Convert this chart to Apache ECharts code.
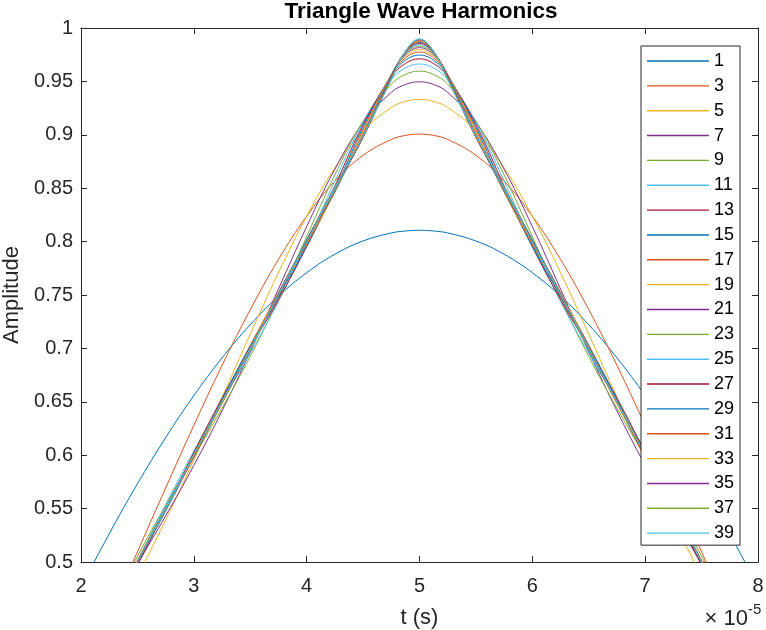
<!DOCTYPE html>
<html>
<head>
<meta charset="utf-8">
<script src="https://cdn.jsdelivr.net/npm/echarts@6/dist/echarts.min.js"></script>
<style>
html,body{margin:0;padding:0;background:#fff;}
#chart{width:766px;height:630px;}
</style>
</head>
<body>
<div id="chart"></div>
<script>
// time in units of 1e-5 s
var tValues = [2,2.25,2.5,2.75,3,3.25,3.5,3.75,4,4.25,4.5,4.75,4.875,5,5.125,5.25,5.5,5.75,6,6.25,6.5,6.75,7,7.25,7.5,7.75,8];
var harmonics = ['1','3','5','7','9','11','13','15','17','19','21','23','25','27','29','31','33','35','37','39'];
var h1  = [0.4764,0.5264,0.5732,0.6164,0.6558,0.6911,0.7222,0.7489,0.7709,0.7882,0.8006,0.8081,0.8099,0.8106,0.8099,0.8081,0.8006,0.7882,0.7709,0.7489,0.7222,0.6911,0.6558,0.6164,0.5732,0.5264,0.4764];
var h3  = [0.3908,0.4496,0.5095,0.5693,0.6279,0.6841,0.7363,0.7833,0.8238,0.8567,0.8808,0.8956,0.8994,0.9006,0.8994,0.8956,0.8808,0.8567,0.8238,0.7833,0.7363,0.6841,0.6279,0.5693,0.5095,0.4496,0.3908];
var h5  = [0.3908,0.4372,0.4866,0.5394,0.5955,0.6541,0.7134,0.7709,0.8238,0.8691,0.9038,0.9256,0.9312,0.9331,0.9312,0.9256,0.9038,0.8691,0.8238,0.7709,0.7134,0.6541,0.5955,0.5394,0.4866,0.4372,0.3908];
var h7  = [0.4065,0.4533,0.4982,0.5432,0.5904,0.6415,0.6970,0.7556,0.8141,0.8678,0.9113,0.9397,0.9471,0.9496,0.9471,0.9397,0.9113,0.8678,0.8141,0.7556,0.6970,0.6415,0.5904,0.5432,0.4982,0.4533,0.4065];
var h9  = [0.4006,0.4541,0.5053,0.5532,0.5985,0.6439,0.6925,0.7464,0.8046,0.8625,0.9128,0.9473,0.9565,0.9596,0.9565,0.9473,0.9128,0.8625,0.8046,0.7464,0.6925,0.6439,0.5985,0.5532,0.5053,0.4541,0.4006];
var h11 = [0.3967,0.4474,0.5006,0.5537,0.6039,0.6504,0.6955,0.7438,0.7982,0.8568,0.9118,0.9517,0.9626,0.9663,0.9626,0.9517,0.9118,0.8568,0.7982,0.7438,0.6955,0.6504,0.6039,0.5537,0.5006,0.4474,0.3967];
var h13 = [0.4013,0.4485,0.4972,0.5491,0.6024,0.6535,0.7003,0.7457,0.7954,0.8520,0.9096,0.9542,0.9668,0.9711,0.9668,0.9542,0.9096,0.8520,0.7954,0.7457,0.7003,0.6535,0.6024,0.5491,0.4972,0.4485,0.4013];
var h15 = [0.4013,0.4519,0.4997,0.5477,0.5988,0.6521,0.7028,0.7490,0.7954,0.8487,0.9071,0.9556,0.9698,0.9747,0.9698,0.9556,0.9071,0.8487,0.7954,0.7490,0.7028,0.6521,0.5988,0.5477,0.4997,0.4519,0.4013];
var h17 = [0.3986,0.4504,0.5017,0.5501,0.5980,0.6493,0.7024,0.7516,0.7971,0.8469,0.9046,0.9562,0.9720,0.9775,0.9720,0.9562,0.9046,0.8469,0.7971,0.7516,0.7024,0.6493,0.5980,0.5501,0.5017,0.4504,0.3986];
var h19 = [0.3999,0.4487,0.5001,0.5515,0.5998,0.6481,0.7004,0.7524,0.7992,0.8464,0.9024,0.9564,0.9736,0.9798,0.9736,0.9564,0.9024,0.8464,0.7992,0.7524,0.7004,0.6481,0.5998,0.5515,0.5001,0.4487,0.3999];
var h21 = [0.4010,0.4501,0.4988,0.5503,0.6013,0.6491,0.6988,0.7517,0.8009,0.8468,0.9005,0.9562,0.9749,0.9816,0.9749,0.9562,0.9005,0.8468,0.8009,0.7517,0.6988,0.6491,0.6013,0.5503,0.4988,0.4501,0.4010];
var h23 = [0.3995,0.4509,0.4999,0.5490,0.6008,0.6506,0.6985,0.7503,0.8018,0.8478,0.8992,0.9559,0.9758,0.9831,0.9758,0.9559,0.8992,0.8478,0.8018,0.7503,0.6985,0.6506,0.6008,0.5490,0.4999,0.4509,0.3995];
var h25 = [0.3995,0.4497,0.5008,0.5495,0.5995,0.6511,0.6994,0.7491,0.8018,0.8490,0.8983,0.9554,0.9765,0.9844,0.9765,0.9554,0.8983,0.8490,0.8018,0.7491,0.6994,0.6511,0.5995,0.5495,0.5008,0.4497,0.3995];
var h27 = [0.4006,0.4494,0.5001,0.5506,0.5992,0.6504,0.7005,0.7487,0.8012,0.8501,0.8977,0.9548,0.9771,0.9855,0.9771,0.9548,0.8977,0.8501,0.8012,0.7487,0.7005,0.6504,0.5992,0.5506,0.5001,0.4494,0.4006];
var h29 = [0.4000,0.4504,0.4994,0.5505,0.5999,0.6495,0.7010,0.7491,0.8003,0.8509,0.8976,0.9542,0.9775,0.9865,0.9775,0.9542,0.8976,0.8509,0.8003,0.7491,0.7010,0.6495,0.5999,0.5505,0.4994,0.4504,0.4000];
var h31 = [0.3995,0.4503,0.5000,0.5497,0.6006,0.6493,0.7006,0.7499,0.7995,0.8514,0.8977,0.9535,0.9778,0.9873,0.9778,0.9535,0.8977,0.8514,0.7995,0.7499,0.7006,0.6493,0.6006,0.5497,0.5000,0.4503,0.3995];
var h33 = [0.4002,0.4496,0.5005,0.5495,0.6004,0.6498,0.6999,0.7505,0.7990,0.8514,0.8981,0.9529,0.9780,0.9881,0.9780,0.9529,0.8981,0.8514,0.7990,0.7505,0.6999,0.6498,0.6004,0.5495,0.5005,0.4496,0.4002];
var h35 = [0.4002,0.4499,0.5000,0.5501,0.5997,0.6504,0.6994,0.7508,0.7990,0.8512,0.8985,0.9523,0.9781,0.9887,0.9781,0.9523,0.8985,0.8512,0.7990,0.7508,0.6994,0.6504,0.5997,0.5501,0.5000,0.4499,0.4002];
var h37 = [0.3997,0.4504,0.4996,0.5504,0.5995,0.6505,0.6995,0.7506,0.7994,0.8507,0.8991,0.9517,0.9782,0.9893,0.9782,0.9517,0.8991,0.8507,0.7994,0.7506,0.6995,0.6505,0.5995,0.5504,0.4996,0.4504,0.3997];
var h39 = [0.4000,0.4500,0.5000,0.5500,0.6000,0.6500,0.7000,0.7501,0.7999,0.8502,0.8996,0.9512,0.9782,0.9899,0.9782,0.9512,0.8996,0.8502,0.7999,0.7501,0.7000,0.6500,0.6000,0.5500,0.5000,0.4500,0.4000];
var xTicks = [2,3,4,5,6,7,8];
var yTickLabels = ['0.5','0.55','0.6','0.65','0.7','0.75','0.8','0.85','0.9','0.95','1'];

var seriesValues = [h1,h3,h5,h7,h9,h11,h13,h15,h17,h19,h21,h23,h25,h27,h29,h31,h33,h35,h37,h39];
var palette = ['#0072BD','#D95319','#EDB120','#7E2F8E','#77AC30','#4DBEEE','#A2142F'];
var FONT = "'Liberation Sans', Arial, Helvetica, sans-serif";
var AX = '#262626';

var series = seriesValues.map(function (vals, i) {
  return {
    name: harmonics[i],
    type: 'line',
    xAxisIndex: 0,
    yAxisIndex: 0,
    data: vals.map(function (v, j) { return [tValues[j], v]; }),
    smooth: 0.4,
    symbol: 'none',
    clip: true,
    silent: true,
    animation: false,
    lineStyle: { width: 1, color: palette[i % palette.length] },
    itemStyle: { color: palette[i % palette.length] }
  };
});

function xAx(pos, showLabel) {
  return {
    type: 'value', position: pos, min: xTicks[0], max: xTicks[xTicks.length - 1], interval: 1,
    axisLine: { show: true, onZero: false, lineStyle: { color: AX, width: 1 } },
    axisTick: { show: true, inside: true, length: 6, lineStyle: { color: AX } },
    axisLabel: { show: showLabel, color: AX, fontSize: 20, fontFamily: FONT, margin: 14 },
    splitLine: { show: false },
    name: showLabel ? 't (s)' : '',
    nameLocation: 'middle', nameGap: 45,
    nameTextStyle: { color: AX, fontSize: 22, fontFamily: FONT }
  };
}
function yAx(pos, showLabel) {
  return {
    type: 'value', position: pos, min: 0.5, max: 1, interval: 0.05,
    axisLine: { show: true, onZero: false, lineStyle: { color: AX, width: 1 } },
    axisTick: { show: true, inside: true, length: 6, lineStyle: { color: AX } },
    axisLabel: { show: showLabel, color: AX, fontSize: 20, fontFamily: FONT, margin: 8,
      formatter: function (v) { var k = Math.round((v - 0.5) / 0.05); return yTickLabels[k]; } },
    splitLine: { show: false },
    name: showLabel ? 'Amplitude' : '',
    nameLocation: 'middle', nameGap: 58,
    nameTextStyle: { color: AX, fontSize: 22, fontFamily: FONT }
  };
}

var chart = echarts.init(document.getElementById('chart'), null, { renderer: 'canvas' });
chart.setOption({
  animation: false,
  backgroundColor: '#fff',
  grid: { left: 81, right: 8, top: 28, bottom: 68, containLabel: false, outerBoundsMode: 'none' },
  xAxis: [xAx('bottom', true), xAx('top', false)],
  yAxis: [yAx('left', true), yAx('right', false)],
  legend: {
    orient: 'vertical', left: 641, top: 46,
    padding: [6, 6, 3, 6], itemGap: 6.85,
    itemWidth: 62, itemHeight: 1.4, icon: 'rect',
    textStyle: { fontSize: 18, lineHeight: 18, color: '#000', fontFamily: FONT },
    borderColor: AX, borderWidth: 1, borderRadius: 0, backgroundColor: '#fff',
    selectedMode: false,
    data: harmonics
  },
  graphic: [
    { type: 'text', x: 421, y: 0, silent: true,
      style: { text: 'Triangle Wave Harmonics', fill: '#000', font: 'bold 22.5px ' + FONT, align: 'center', verticalAlign: 'top' } },
    { type: 'text', x: 711, y: 630, silent: true,
      style: { text: '\u00d7', fill: AX, font: '22px ' + FONT, align: 'center', verticalAlign: 'bottom' } },
    { type: 'text', x: 748, y: 630, silent: true,
      style: { text: '10', fill: AX, font: '22px ' + FONT, align: 'right', verticalAlign: 'bottom' } },
    { type: 'text', x: 748, y: 602, silent: true,
      style: { text: '-5', fill: AX, font: '15px ' + FONT, align: 'left', verticalAlign: 'top' } }
  ],
  series: series
});
</script>
</body>
</html>
